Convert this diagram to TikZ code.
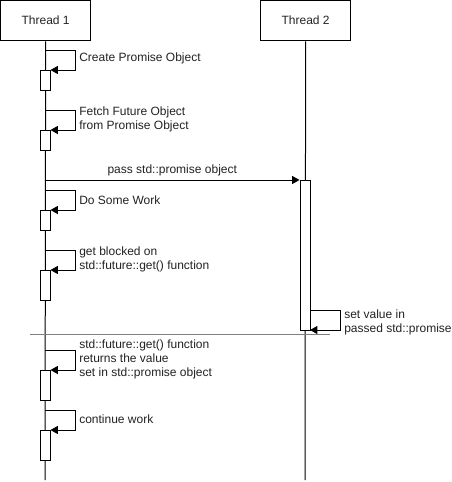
\documentclass[tikz,border=0pt]{standalone}
\usepackage{fontspec}
\setmainfont{Liberation Sans}
\usetikzlibrary{arrows.meta}
\definecolor{txt}{HTML}{222222}
\definecolor{sep}{HTML}{808080}
\tikzset{
  head/.style={draw=black, line width=1pt, minimum width=67.5pt, minimum height=30pt, inner sep=0pt, font=\fontsize{9}{10.5}\selectfont, text=txt},
  life/.style={draw=black, line width=0.75pt},
  act/.style={draw=black, fill=white, line width=0.75pt, minimum width=7.5pt, inner sep=0pt},
  msg/.style={draw=black, line width=0.75pt, -{Triangle[length=5.5pt,width=6pt]}},
  lbl/.style={anchor=west, inner sep=0pt, align=left, font=\fontsize{9}{10.5}\selectfont, text=txt},
}
\begin{document}
\begin{tikzpicture}[x=0.75pt,y=-0.75pt]
\useasboundingbox (0,0) rectangle (452,482);
% heads
\node[head, anchor=north west] (t1) at (0,0) {Thread 1};
\node[head, anchor=north west] (t2) at (260,0) {Thread 2};
\coordinate (e1) at (45,480);
\coordinate (e2) at (305,480);
\draw[life] (t1.south) -- (e1);
\draw[life] (t2.south) -- (e2);
% thread 2 activation
\node[act, minimum height=112.5pt, anchor=north] (b1) at (305,180) {};
% pass message
\coordinate (p0) at (45,180);
\draw[msg] (p0) -- (b1.north west) node[midway, above=3pt, inner sep=0pt, font=\fontsize{9}{10.5}\selectfont, text=txt] (pl) {pass std::promise object};
% activations thread 1
\node[act, minimum height=15pt, anchor=north] (a1) at (45,70) {};
\node[act, minimum height=15pt, anchor=north] (a2) at (45,130) {};
\node[act, minimum height=15pt, anchor=north] (a3) at (45,210) {};
\node[act, minimum height=22.5pt, anchor=north] (a4) at (45,270) {};
\node[act, minimum height=22.5pt, anchor=north] (a5) at (45,370) {};
\node[act, minimum height=22.5pt, anchor=north] (a6) at (45,430) {};
% self messages thread 1
\coordinate (s1) at (45,50);
\coordinate (s2) at (45,110);
\coordinate (s3) at (45,190);
\coordinate (s4) at (45,250);
\coordinate (s5) at (45,350);
\coordinate (s6) at (45,410);
\draw[msg] (s1) -- ++(30,0) |- (a1.north east);
\draw[msg] (s2) -- ++(30,0) |- (a2.north east);
\draw[msg] (s3) -- ++(30,0) |- (a3.north east);
\draw[msg] (s4) -- ++(30,0) |- (a4.north east);
\draw[msg] (s5) -- ++(30,0) |- (a5.north east);
\draw[msg] (s6) -- ++(30,0) |- (a6.north east);
\node[lbl] (l1) at (79,58) {Create Promise Object};
\node[lbl] (l2) at (79,119) {Fetch Future Object\\from Promise Object};
\node[lbl] (l3) at (79,200) {Do Some Work};
\node[lbl] (l4) at (79,259) {get blocked on\\std::future::get() function};
\node[lbl] (l5) at (79,359) {std::future::get() function\\returns the value\\set in std::promise object};
\node[lbl] (l6) at (79,419) {continue work};
% thread 2 self message
\coordinate (s7) at (310,310);
\coordinate (r7) at (310,330);
\draw[msg] (s7) -- ++(30,0) |- (r7);
\node[lbl] (l7) at (344,322) {set value in\\passed std::promise};
% separator
\coordinate (c0) at (30,334);
\coordinate (c1) at (330,334);
\draw[sep, line width=0.75pt] (c0) -- (c1);
\end{tikzpicture}
\end{document}
